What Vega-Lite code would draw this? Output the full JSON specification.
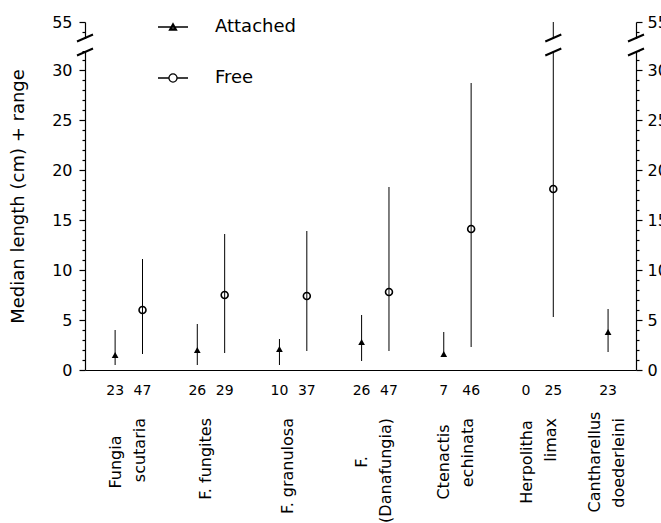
{
  "$schema": "https://vega.github.io/schema/vega-lite/v6.json",
  "width": 551,
  "height": 348,
  "autosize": {"type": "none"},
  "padding": {"left": 85, "top": 22, "right": 25, "bottom": 153},
  "config": {
    "view": {"stroke": null},
    "font": "DejaVu Sans",
    "axis": {"grid": false, "domainColor": "black", "tickColor": "black", "labelColor": "black", "titleColor": "black", "domainWidth": 1.2, "tickWidth": 1.2}
  },
  "datasets": {
    "pts": [
      {"species": "Fungia scutaria", "group": "Attached", "slot": 1, "n": 23, "median": 1.5, "low": 0.5, "high": 4.0},
      {"species": "Fungia scutaria", "group": "Free", "slot": 2, "n": 47, "median": 6.0, "low": 1.6, "high": 11.1},
      {"species": "F. fungites", "group": "Attached", "slot": 4, "n": 26, "median": 2.0, "low": 0.5, "high": 4.6},
      {"species": "F. fungites", "group": "Free", "slot": 5, "n": 29, "median": 7.5, "low": 1.7, "high": 13.6},
      {"species": "F. granulosa", "group": "Attached", "slot": 7, "n": 10, "median": 2.1, "low": 0.5, "high": 3.1},
      {"species": "F. granulosa", "group": "Free", "slot": 8, "n": 37, "median": 7.4, "low": 1.9, "high": 13.9},
      {"species": "F. (Danafungia)", "group": "Attached", "slot": 10, "n": 26, "median": 2.8, "low": 0.9, "high": 5.5},
      {"species": "F. (Danafungia)", "group": "Free", "slot": 11, "n": 47, "median": 7.8, "low": 1.9, "high": 18.3},
      {"species": "Ctenactis echinata", "group": "Attached", "slot": 13, "n": 7, "median": 1.6, "low": 1.4, "high": 3.8},
      {"species": "Ctenactis echinata", "group": "Free", "slot": 14, "n": 46, "median": 14.1, "low": 2.3, "high": 28.7},
      {"species": "Herpolitha limax", "group": "Attached", "slot": 16, "n": 0, "median": null, "low": null, "high": null},
      {"species": "Herpolitha limax", "group": "Free", "slot": 17, "n": 25, "median": 18.1, "low": 5.3, "high": 55},
      {"species": "Cantharellus doederleini", "group": "Attached", "slot": 19, "n": 23, "median": 3.8, "low": 1.8, "high": 6.1}
    ],
    "species": [
      {"line1": "Fungia", "line2": "scutaria", "center": 1.5},
      {"line1": "F. fungites", "line2": "", "center": 4.5},
      {"line1": "F. granulosa", "line2": "", "center": 7.5},
      {"line1": "F.", "line2": "(Danafungia)", "center": 10.5},
      {"line1": "Ctenactis", "line2": "echinata", "center": 13.5},
      {"line1": "Herpolitha", "line2": "limax", "center": 16.5},
      {"line1": "Cantharellus", "line2": "doederleini", "center": 19}
    ]
  },
  "layer": [
    {
      "data": {"name": "pts"},
      "mark": {"type": "rule", "color": "black", "strokeWidth": 1},
      "encoding": {
        "x": {"field": "slot", "type": "quantitative", "scale": {"domain": [-0.1, 20.02], "nice": false, "zero": false},
              "axis": {"orient": "bottom", "domain": true, "ticks": false, "labels": false, "title": null}},
        "y": {"field": "low", "type": "quantitative", "scale": {"domain": [0, 30, 55], "range": [348, 48, 0], "nice": false, "zero": false},
              "axis": {"orient": "left", "values": [0,1,2,3,4,5,6,7,8,9,10,11,12,13,14,15,16,17,18,19,20,21,22,23,24,25,26,27,28,29,30,35,40,45,50,55],
                       "labelExpr": "(datum.value <= 30 && datum.value % 5 === 0) || datum.value === 55 ? datum.label : ''", "labelOverlap": false, "labelFontSize": 16, "labelPadding": 7,
                       "tickSize": {"condition": {"test": "(datum.value <= 30 && datum.value % 5 === 0) || datum.value === 55", "value": 6}, "value": 3},
                       "title": "Median length (cm) + range", "titleFontSize": 18, "titleFontWeight": "normal", "titlePadding": 24}},
        "y2": {"field": "high"}
      }
    },
    {
      "data": {"name": "pts"},
      "transform": [{"filter": "datum.group === 'Attached'"}],
      "mark": {"type": "point", "shape": "triangle-up", "filled": true, "size": 45, "color": "black", "opacity": 1},
      "encoding": {
        "x": {"field": "slot", "type": "quantitative", "scale": {"domain": [-0.1, 20.02], "nice": false, "zero": false}},
        "y": {"field": "median", "type": "quantitative", "scale": {"domain": [0, 30, 55], "range": [348, 48, 0], "nice": false, "zero": false},
              "axis": {"orient": "right", "values": [0,1,2,3,4,5,6,7,8,9,10,11,12,13,14,15,16,17,18,19,20,21,22,23,24,25,26,27,28,29,30,35,40,45,50,55],
                       "labelExpr": "(datum.value <= 30 && datum.value % 5 === 0) || datum.value === 55 ? datum.label : ''", "labelOverlap": false, "labelFontSize": 16, "labelPadding": 5,
                       "tickSize": {"condition": {"test": "(datum.value <= 30 && datum.value % 5 === 0) || datum.value === 55", "value": 6}, "value": 3},
                       "title": null}}
      }
    },
    {
      "data": {"name": "pts"},
      "transform": [{"filter": "datum.group === 'Free'"}],
      "mark": {"type": "point", "shape": "circle", "filled": false, "size": 48, "strokeWidth": 1.6, "color": "black", "opacity": 1},
      "encoding": {
        "x": {"field": "slot", "type": "quantitative", "scale": {"domain": [-0.1, 20.02], "nice": false, "zero": false}},
        "y": {"field": "median", "type": "quantitative", "scale": {"domain": [0, 30, 55], "range": [348, 48, 0], "nice": false, "zero": false}, "axis": null}
      }
    },
    {
      "data": {"values": [{}]},
      "mark": {"type": "rect", "color": "white", "opacity": 1},
      "encoding": {
        "x": {"datum": -0.5, "type": "quantitative", "scale": {"domain": [-0.1, 20.02], "nice": false, "zero": false}},
        "x2": {"datum": 20.5},
        "y": {"datum": 39.9, "type": "quantitative", "scale": {"domain": [0, 30, 55], "range": [348, 48, 0], "nice": false, "zero": false}, "axis": null},
        "y2": {"datum": 46.1}
      }
    },
    {
      "data": {"values": [{}]},
      "mark": {"type": "point", "shape": "M-0.8,-0.35L0.8,-1.05M-0.8,1.05L0.8,0.35", "size": 400, "filled": false, "strokeWidth": 2, "color": "black", "opacity": 1},
      "encoding": {
        "x": {"datum": -0.1, "type": "quantitative", "scale": {"domain": [-0.1, 20.02], "nice": false, "zero": false}},
        "y": {"datum": 43.0, "type": "quantitative", "scale": {"domain": [0, 30, 55], "range": [348, 48, 0], "nice": false, "zero": false}, "axis": null}
      }
    },
    {
      "data": {"values": [{}]},
      "mark": {"type": "point", "shape": "M-0.8,-0.35L0.8,-1.05M-0.8,1.05L0.8,0.35", "size": 400, "filled": false, "strokeWidth": 2, "color": "black", "opacity": 1},
      "encoding": {
        "x": {"datum": 17, "type": "quantitative", "scale": {"domain": [-0.1, 20.02], "nice": false, "zero": false}},
        "y": {"datum": 43.0, "type": "quantitative", "scale": {"domain": [0, 30, 55], "range": [348, 48, 0], "nice": false, "zero": false}, "axis": null}
      }
    },
    {
      "data": {"values": [{}]},
      "mark": {"type": "point", "shape": "M-0.8,-0.35L0.8,-1.05M-0.8,1.05L0.8,0.35", "size": 400, "filled": false, "strokeWidth": 2, "color": "black", "opacity": 1},
      "encoding": {
        "x": {"datum": 20.02, "type": "quantitative", "scale": {"domain": [-0.1, 20.02], "nice": false, "zero": false}},
        "y": {"datum": 43.0, "type": "quantitative", "scale": {"domain": [0, 30, 55], "range": [348, 48, 0], "nice": false, "zero": false}, "axis": null}
      }
    },
    {
      "data": {"name": "pts"},
      "mark": {"type": "text", "fontSize": 14, "color": "black", "baseline": "middle", "align": "center"},
      "encoding": {
        "x": {"field": "slot", "type": "quantitative", "scale": {"domain": [-0.1, 20.02], "nice": false, "zero": false}},
        "y": {"datum": -2.1, "type": "quantitative", "scale": {"domain": [0, 30, 55], "range": [348, 48, 0], "nice": false, "zero": false}, "axis": null},
        "text": {"field": "n", "type": "quantitative"}
      }
    },
    {
      "data": {"name": "species"},
      "transform": [{"filter": "datum.line2 !== ''"}],
      "mark": {"type": "text", "fontSize": 16, "color": "black", "baseline": "middle", "align": "center", "angle": 270, "dy": -13},
      "encoding": {
        "x": {"field": "center", "type": "quantitative", "scale": {"domain": [-0.1, 20.02], "nice": false, "zero": false}},
        "y": {"datum": -9.2, "type": "quantitative", "scale": {"domain": [0, 30, 55], "range": [348, 48, 0], "nice": false, "zero": false}, "axis": null},
        "text": {"field": "line1", "type": "nominal"}
      }
    },
    {
      "data": {"name": "species"},
      "transform": [{"filter": "datum.line2 === ''"}],
      "mark": {"type": "text", "fontSize": 16, "color": "black", "baseline": "middle", "align": "right", "angle": 270, "dy": -5},
      "encoding": {
        "x": {"field": "center", "type": "quantitative", "scale": {"domain": [-0.1, 20.02], "nice": false, "zero": false}},
        "y": {"datum": -4.8, "type": "quantitative", "scale": {"domain": [0, 30, 55], "range": [348, 48, 0], "nice": false, "zero": false}, "axis": null},
        "text": {"field": "line1", "type": "nominal"}
      }
    },
    {
      "data": {"name": "species"},
      "transform": [{"filter": "datum.line2 !== ''"}],
      "mark": {"type": "text", "fontSize": 16, "color": "black", "baseline": "middle", "align": "right", "angle": 270, "dy": 11},
      "encoding": {
        "x": {"field": "center", "type": "quantitative", "scale": {"domain": [-0.1, 20.02], "nice": false, "zero": false}},
        "y": {"datum": -4.8, "type": "quantitative", "scale": {"domain": [0, 30, 55], "range": [348, 48, 0], "nice": false, "zero": false}, "axis": null},
        "text": {"field": "line2", "type": "nominal"}
      }
    },
    {
      "data": {"name": "pts"},
      "transform": [{"filter": "false"}],
      "mark": {"type": "point", "filled": false, "color": "black", "strokeWidth": 1.3, "opacity": 1},
      "encoding": {
        "x": {"field": "slot", "type": "quantitative", "scale": {"domain": [-0.1, 20.02], "nice": false, "zero": false}},
        "y": {"field": "median", "type": "quantitative", "scale": {"domain": [0, 30, 55], "range": [348, 48, 0], "nice": false, "zero": false}, "axis": null},
        "shape": {"field": "group", "type": "nominal",
                  "scale": {"domain": ["Attached", "Free"], "range": ["M-1,0H1M-0.24,0.2L0,-0.23L0.24,0.2ZM-0.13,0.12L0,-0.1L0.13,0.12Z", "M-1,0H-0.27M0.27,0H1M0.27,0A0.27,0.27 0 1 1 -0.27,0A0.27,0.27 0 1 1 0.27,0Z"]},
                  "legend": {"orient": "none", "legendX": 72, "legendY": -11, "title": null, "symbolSize": 900, "symbolStrokeColor": "black", "symbolStrokeWidth": 1.3, "labelFontSize": 18, "labelOffset": 26, "rowPadding": 26, "padding": 0, "labelColor": "black"}}
      }
    }
  ],
  "resolve": {"axis": {"y": "independent"}, "scale": {"shape": "independent"}}
}
